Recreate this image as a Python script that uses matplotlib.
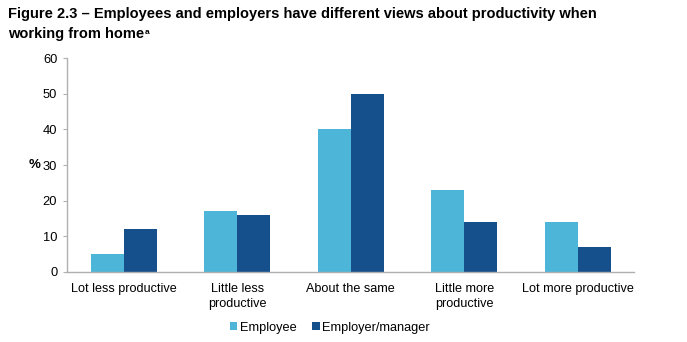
import matplotlib
matplotlib.use("Agg")
import matplotlib.pyplot as plt
import numpy as np

plt.rcParams['font.family'] = ['Liberation Sans', 'DejaVu Sans']

categorias = ["Lot less productive", "Little less\nproductive", "About the same",
              "Little more\nproductive", "Lot more productive"]
employee = [5, 17, 40, 23, 14]
employer = [12, 16, 50, 14, 7]

c_emp = "#4db5d7"
c_boss = "#16508c"

fig = plt.figure(figsize=(6.87, 3.42), dpi=100)
ax = fig.add_axes([0.0975, 0.205, 0.826, 0.625])

x = np.arange(len(categorias))
w = 0.29
ax.bar(x - w / 2, employee, w, color=c_emp, label="Employee")
ax.bar(x + w / 2, employer, w, color=c_boss, label="Employer/manager")

ax.set_xlim(-0.5, len(categorias) - 0.5)
ax.set_ylim(0, 60)
ax.set_yticks(range(0, 61, 10))
ax.set_xticks(x)
ax.set_xticklabels(categorias, fontsize=9.1, linespacing=1.3)
ax.tick_params(axis='y', labelsize=9.3, length=3, color="#b0b0b0", pad=4)
ax.tick_params(axis='x', length=0, pad=8)

for s in ["top", "right"]:
    ax.spines[s].set_visible(False)
for s in ["left", "bottom"]:
    ax.spines[s].set_color("#b0b0b0")
    ax.spines[s].set_linewidth(1)

ax.set_ylabel("%", rotation=0, fontsize=9.5, fontweight="bold", labelpad=6, va="center")

fig.text(0.012, 0.946, "Figure 2.3 \u2013 Employees and employers have different views about productivity when",
         fontsize=10.5, fontweight="bold", va="baseline")
t2 = fig.text(0.012, 0.890, "working from home", fontsize=10.5, fontweight="bold", va="baseline")
# superindice pequeño pegado al final del titulo
ax.annotate("a", xy=(1, 1), xycoords=t2, xytext=(0.3, -1.5), textcoords="offset points",
            fontsize=6, fontweight="bold", ha="left", va="top", annotation_clip=False)

fig.legend(loc="center", bbox_to_anchor=(0.48, 0.042), ncol=2, frameon=False, fontsize=9.2,
           handlelength=0.6, handleheight=0.6, handletextpad=0.2, columnspacing=1.2)

fig.savefig("out.png", dpi=100)
